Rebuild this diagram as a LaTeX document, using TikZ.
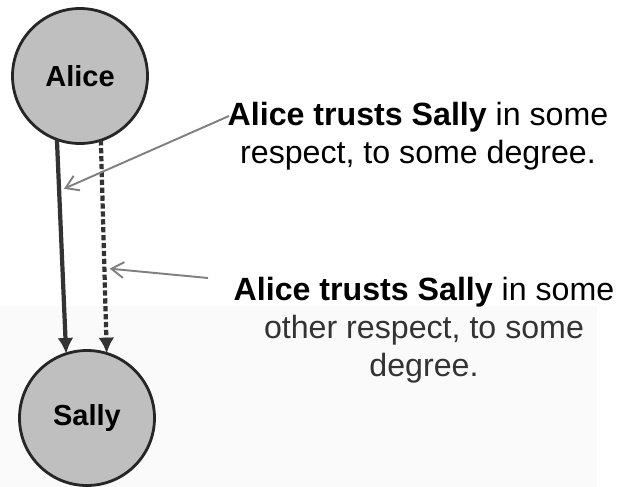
\documentclass[tikz,border=0pt]{standalone}
\usepackage{fontspec}
\setmainfont{Liberation Sans}
\usetikzlibrary{arrows.meta}
\begin{document}
\begin{tikzpicture}[x=0.02cm,y=-0.02cm,
  person/.style={circle,draw=black!85,line width=1.6pt,fill=black!25,
    minimum size=135*0.02cm,inner sep=0pt,outer sep=0pt,
    font=\fontsize{16.5}{19}\selectfont\bfseries},
  trust/.style={draw=black!80,line width=2.4pt,-{Latex[length=9pt,width=9pt]}},
  other/.style={trust,dash pattern=on 3pt off 1.5pt},
  pointer/.style={draw=black!50,line width=1.1pt,-{Straight Barb[length=7pt,width=9pt]}},
  remark/.style={align=center,inner sep=0pt,font=\fontsize{18.3}{21.6}\selectfont}]
\useasboundingbox (0,0) rectangle (627,487);
% faint scanned band behind the lower half
\fill[black!2] (0,306) rectangle (597,487);
\node[person] (alice) at (80,76) {Alice};
\node[person] (sally) at (87,418) {Sally};
% the two trust relations
\draw[trust] (alice.-110) -- (sally.108) coordinate[pos=0.24] (hit1);
\draw[other] (alice.-72) -- (sally.73) coordinate[pos=0.6] (hit2);
\node[remark,anchor=north] (first) at (418,102)
  {\textbf{Alice trusts Sally} in some\\respect, to some degree.};
\node[remark,anchor=north] (second) at (424,277)
  {\textbf{Alice trusts Sally} in some\\\color{black!80}other respect, to some\\\color{black!80}degree.};
\coordinate (from1) at (229,116);
\coordinate (from2) at (208,278);
\draw[pointer,shorten >=3pt] (from1) -- (hit1);
\draw[pointer,shorten >=3pt] (from2) -- (hit2);
\end{tikzpicture}
\end{document}
